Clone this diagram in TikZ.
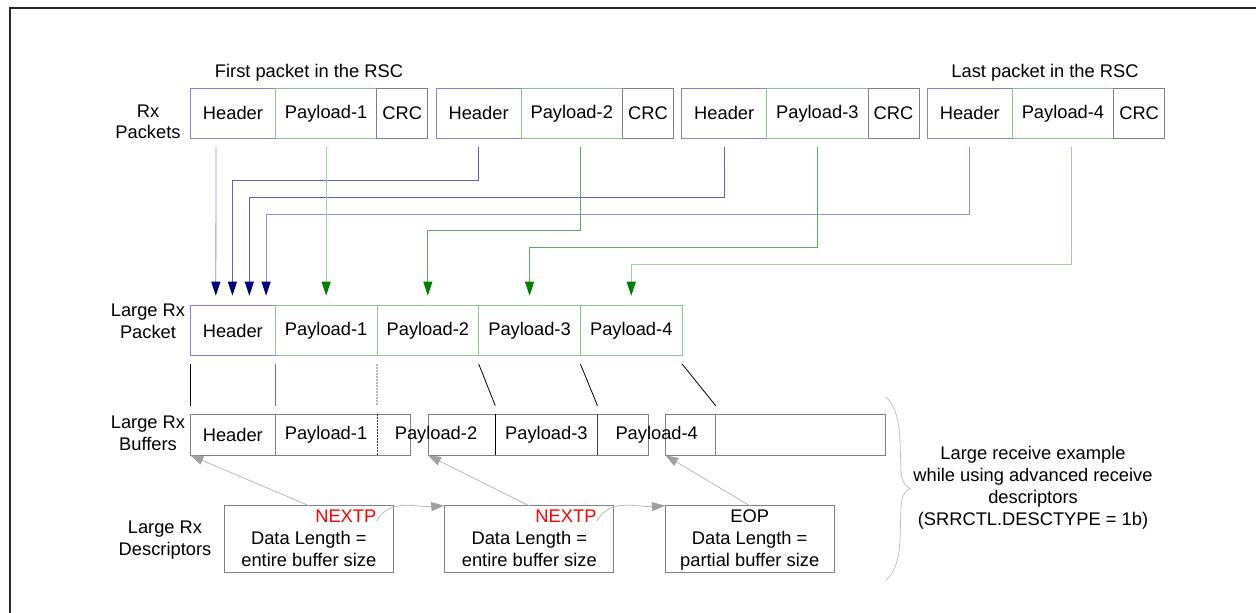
\documentclass[tikz,border=0pt]{standalone}
\usepackage{fontspec}
\setmainfont{Liberation Sans}
\usetikzlibrary{arrows.meta,calc}
\definecolor{hdr}{RGB}{130,130,205}
\definecolor{pay}{RGB}{135,200,135}
\definecolor{crc}{RGB}{128,128,128}
\definecolor{bld}{RGB}{95,95,175}
\definecolor{bll}{RGB}{145,145,210}
\definecolor{grd}{RGB}{95,170,95}
\definecolor{grl}{RGB}{160,210,160}
\definecolor{navyc}{RGB}{0,0,128}
\definecolor{greenc}{RGB}{0,128,0}
\definecolor{arrg}{RGB}{160,160,160}
\definecolor{lineg}{RGB}{185,185,185}
\begin{document}
\begin{tikzpicture}[x=1pt,y=-1pt,
  font=\fontsize{18.3}{21.5}\selectfont,
  cell/.style={draw, inner sep=0pt, outer sep=0pt, anchor=north west, line width=0.9pt},
  pk/.style={cell, minimum height=50pt},
  hd/.style={pk, draw=hdr, minimum width=85pt},
  pl/.style={pk, draw=pay, minimum width=101.3pt},
  cr/.style={pk, draw=crc, minimum width=51pt},
  lpl/.style={pk, draw=pay, minimum width=101.7pt},
  buf/.style={cell, draw=crc, minimum height=41.3pt},
  desc/.style={cell, draw=crc, minimum height=66.6pt, minimum width=169.5pt},
  lbl/.style={align=center, inner sep=0pt},
  two/.style={align=center, inner sep=0pt, font=\fontsize{18.3}{22}\selectfont},
  bluearr/.style={line width=0.8pt, -{Triangle[width=9pt,length=14pt,color=navyc]}},
  greenarr/.style={line width=0.8pt, -{Triangle[width=9pt,length=14pt,color=greenc]}},
  ptr/.style={draw=lineg, line width=0.8pt, -{Triangle[width=9pt,length=13pt,color=arrg]}},
  sep/.style={line width=0.8pt},
]
\useasboundingbox (0,0) rectangle (1256,613);
% frame
\draw[line width=1.7pt, black!85] (1256,8.2) -- (10,8.2) -- (10,613);

% Rx packets
\foreach \i/\x in {1/190.5,2/436.1,3/681.7,4/927.3} {
  \node[hd] (h\i) at (\x,88.3) {Header};
  \node[pl] (p\i) at (h\i.north east) {Payload-\i};
  \node[cr] (c\i) at (p\i.north east) {CRC};
}
\node[anchor=base, inner sep=0pt] (first) at (309,77.7) {First packet in the RSC};
\node[anchor=base, inner sep=0pt] (last) at (1045,77.7) {Last packet in the RSC};

% labels
\node[lbl] (rxp) at (148,122) {Rx\\[-0.9pt]Packets};
\node[lbl] (lrp) at (148,321.3) {Large Rx\\Packet};
\node[lbl] (lrb) at (148,433.5) {Large Rx\\Buffers};
\node[lbl] (lrd) at (165,540) {Large Rx\\Descriptors};

% Large Rx packet
\node[hd] (lh) at (190.3,305.7) {Header};
\node[lpl] (l1) at (lh.north east) {Payload-1};
\node[lpl] (l2) at (l1.north east) {Payload-2};
\node[lpl] (l3) at (l2.north east) {Payload-3};
\node[lpl] (l4) at (l3.north east) {Payload-4};

% routed connectors
\draw[bluearr, draw=bll] ([xshift=-17pt,yshift=-9pt]h1.south) -- ([xshift=-17pt,yshift=10pt]lh.north);
\draw[bluearr, draw=bld] ([yshift=-9pt]h2.south) -- ++(0,33) -| ([xshift=-0.4pt,yshift=10pt]lh.north);
\draw[bluearr, draw=bld] ([yshift=-9pt]h3.south) -- ++(0,50) -| ([xshift=16.5pt,yshift=10pt]lh.north);
\draw[bluearr, draw=bll] ([yshift=-9pt]h4.south) -- ++(0,66.7) -| ([xshift=33.3pt,yshift=10pt]lh.north);
\draw[greenarr, draw=grl] ([yshift=-9pt]p1.south) -- ([yshift=10pt]l1.north);
\draw[greenarr, draw=grd] ([xshift=8.8pt,yshift=-9pt]p2.south) -- ++(0,82.7) -| ([yshift=10pt]l2.north);
\draw[greenarr, draw=grd] ([yshift=-9pt]p3.south) -- ++(0,100) -| ([yshift=10pt]l3.north);
\draw[greenarr, draw=grl] ([xshift=8pt,yshift=-9pt]p4.south) -- ++(0,116.7) -| ([yshift=10pt]l4.north);

% Buffers
\node[buf, minimum width=219.7pt] (b1) at (190.3,414) {};
\node[buf, minimum width=220.4pt] (b2) at (428,414) {};
\node[buf, minimum width=219.7pt] (b3) at (665.3,414) {};
\draw[sep, crc] ([xshift=85pt]b1.north west) -- ([xshift=85pt]b1.south west);
\draw[sep, black!80, dash pattern=on 2pt off 1pt] ([xshift=186.7pt]b1.north west) -- ([xshift=186.7pt]b1.south west);
\draw[sep, black] ([xshift=67.3pt]b2.north west) -- ([xshift=67.3pt]b2.south west);
\draw[sep, black!75] ([xshift=169.5pt]b2.north west) -- ([xshift=169.5pt]b2.south west);
\draw[sep, crc] ([xshift=50.4pt]b3.north west) -- ([xshift=50.4pt]b3.south west);
\node (bt0) at (232.8,434.5) {Header};
\node (bt1) at (326,434.5) {Payload-1};
\node (bt2) at (436,434.5) {Payload-2};
\node (bt3) at (546.4,434.5) {Payload-3};
\node (bt4) at (656.7,434.5) {Payload-4};

% packet-to-buffer lines
\draw[sep, black] ([yshift=-8.3pt]lh.south west) -- ([yshift=8.3pt]b1.north west);
\draw[sep, black!55] ([yshift=-8.3pt]lh.south east) -- ([xshift=85pt,yshift=8.3pt]b1.north west);
\draw[sep, black!80, dash pattern=on 2pt off 1pt] ([yshift=-8.3pt]l1.south east) -- ([xshift=186.7pt,yshift=8.3pt]b1.north west);
\draw[sep, black] ([yshift=-8.3pt]l2.south east) -- ([xshift=67.3pt,yshift=8.3pt]b2.north west);
\draw[sep, black] ([yshift=-8.3pt]l3.south east) -- ([xshift=169.5pt,yshift=8.3pt]b2.north west);
\draw[sep, black] ([yshift=-8.3pt]l4.south east) -- ([xshift=50.4pt,yshift=8.3pt]b3.north west);

% Descriptors
\node[desc] (d1) at (224.3,505.7) {};
\node[desc] (d2) at (444.3,505.7) {};
\node[desc] (d3) at (665,505.7) {};
\node[text=red, anchor=east, inner sep=0pt] (n1) at (376.5,516) {NEXTP};
\node[text=red, anchor=east, inner sep=0pt] (n2) at (596.7,516) {NEXTP};
\node[inner sep=0pt] (e3) at (749.7,516) {EOP};
\node[two] (t1) at (308.8,549) {Data Length =\\entire buffer size};
\node[two] (t2) at (529.3,549) {Data Length =\\entire buffer size};
\node[two] (t3) at (749.7,551) {Data Length =\\partial buffer size};

\draw[ptr] (d1.north) -- (b1.south west);
\draw[ptr] (d2.north) -- (b2.south west);
\draw[ptr] (d3.north) -- (b3.south west);
\draw[ptr] ([yshift=-5pt]n1.east) to[out=60,in=184] (d2.north west);
\draw[ptr] ([yshift=-5pt]n2.east) to[out=60,in=184] (d3.north west);

% brace and note
\draw[lineg, line width=0.7pt] (886,397) .. controls (895,405) and (899,420) .. (900,440)
  -- (901,472) .. controls (902,482) and (905,486) .. (910,488.5)
  .. controls (905,491) and (902,495) .. (901,506)
  -- (900,540) .. controls (899,560) and (895,572) .. (886,580);
\node[align=center, inner sep=0pt, font=\fontsize{18.3}{22.3}\selectfont] (note) at (1033,487.8)
  {Large receive example\\while using advanced receive\\descriptors\\(SRRCTL.DESCTYPE = 1b)};
\end{tikzpicture}
\end{document}
